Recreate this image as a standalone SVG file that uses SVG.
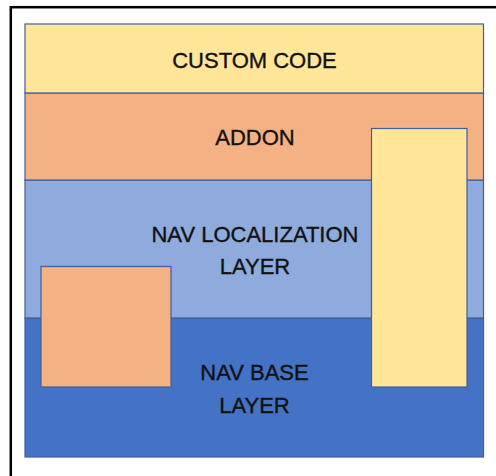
<svg xmlns="http://www.w3.org/2000/svg" width="496" height="476" viewBox="0 0 496 476">
  <style>
    .box { stroke: #3e5f9c; stroke-width: 1.2; }
    .yellow { fill: #FFE699; }
    .orange { fill: #F4B183; }
    .lblue { fill: #8FAADC; }
    .dblue { fill: #4472C4; }
    .lbl { font-family: "Liberation Sans", Arial, sans-serif; font-size: 22px; fill: #111111; stroke: #111111; stroke-width: 0.35; text-anchor: middle; }
  </style>
  <rect x="0" y="0" width="496" height="476" fill="#ffffff"/>
  <rect x="10.8" y="7.2" width="520" height="520" fill="none" stroke="#000000" stroke-width="2.5"/>
  <g id="nav-base-layer">
    <rect class="box dblue" x="25" y="318" width="458.5" height="139"/>
    <text class="lbl" x="254.5" y="380">NAV BASE</text>
    <text class="lbl" x="254.5" y="413">LAYER</text>
  </g>
  <g id="nav-localization-layer">
    <rect class="box lblue" x="25" y="180" width="458.5" height="138"/>
    <text class="lbl" x="255" y="242">NAV LOCALIZATION</text>
    <text class="lbl" x="255" y="274">LAYER</text>
  </g>
  <g id="addon">
    <rect class="box orange" x="25" y="93" width="458.5" height="87"/>
    <text class="lbl" x="255" y="145">ADDON</text>
  </g>
  <g id="custom-code">
    <rect class="box yellow" x="25" y="24" width="458.5" height="69"/>
    <text class="lbl" x="254.5" y="68">CUSTOM CODE</text>
  </g>
  <g id="addon-block">
    <rect class="box orange" x="41" y="266.5" width="130" height="120.5"/>
  </g>
  <g id="custom-code-block">
    <rect class="box yellow" x="371.5" y="128.5" width="95.5" height="258.5"/>
  </g>
  <g id="connectors"/>
</svg>
